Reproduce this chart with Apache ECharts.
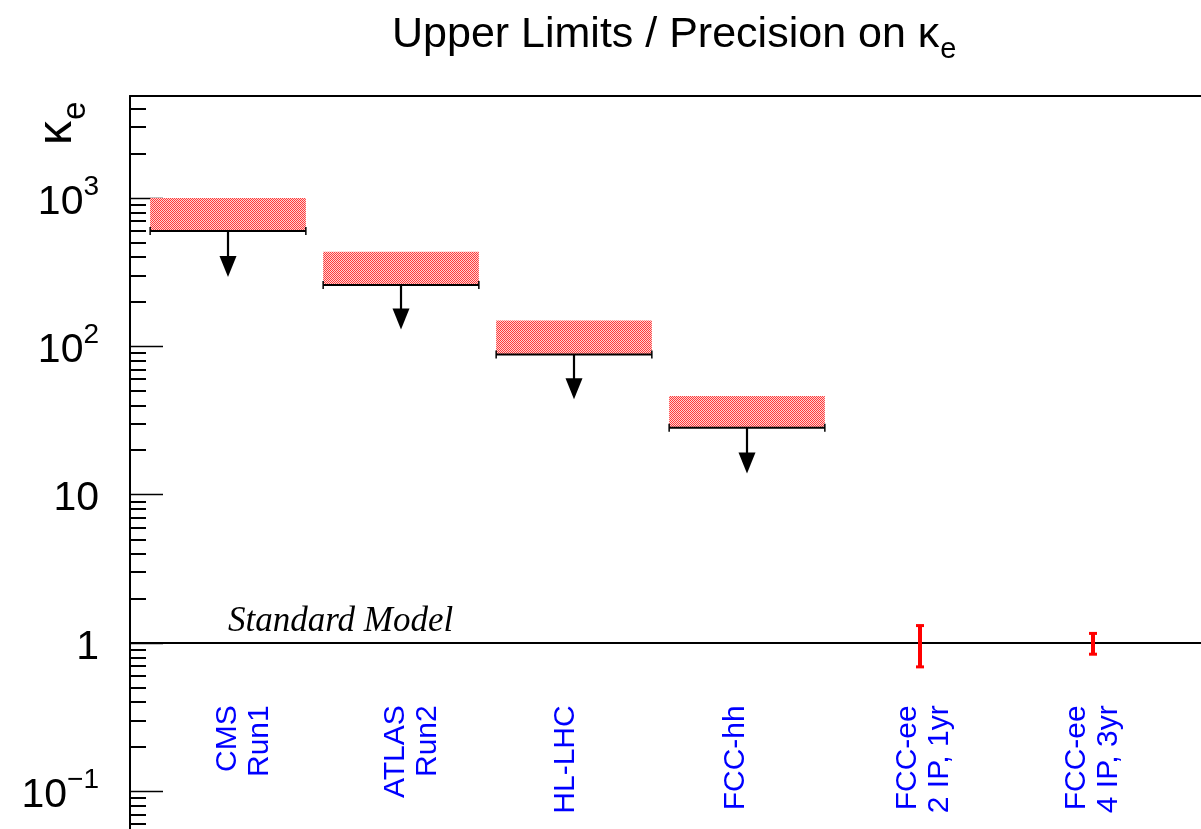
<!DOCTYPE html>
<html><head><meta charset="utf-8">
<script src="https://cdn.jsdelivr.net/npm/echarts@6/dist/echarts.min.js"></script>
<style>html,body{margin:0;padding:0;background:#fff}#chart{width:1201px;height:829px}</style>
</head><body><div id="chart"></div>
<script>
// ---------------- data ----------------
const categories = ['CMS\nRun1', 'ATLAS\nRun2', 'HL-LHC', 'FCC-hh', 'FCC-ee\n2 IP, 1yr', 'FCC-ee\n4 IP, 3yr'];
const labelX = [1.0, 1.97, 2.955, 3.935, 4.93, 5.905];
const labelTopY = 0.38;
// upper limits (hadron colliders)
const limitX = [1, 2, 3, 4];
const limitValues = [600, 259, 88, 28.3];
const bandTopValues = [1000, 434, 149, 46.3];
const arrowTipValues = [293, 130, 44, 13.9];
// precision (FCC-ee)
const precX = [5, 6];
const precCentral = [1, 1];
const precError = [0.31, 0.16];
// standard model
const smValue = 1;
const smLabel = 'Standard Model';
const smLabelX = 1.0;
// axis ticks
const yMajorTicks = [0.1, 1, 10, 100, 1000];
const yMajorLabels = ['10^-1', '1', '10', '10^2', '10^3'];
const yMinorTicks = [0.06, 0.07, 0.08, 0.09,
  0.2, 0.3, 0.4, 0.5, 0.6, 0.7, 0.8, 0.9,
  2, 3, 4, 5, 6, 7, 8, 9,
  20, 30, 40, 50, 60, 70, 80, 90,
  200, 300, 400, 500, 600, 700, 800, 900,
  2000, 3000, 4000];
const titleMain = 'Upper Limits / Precision on κ';
const titleSub = 'e';
const yNameMain = 'κ';
const yNameSub = 'e';

// ---------------- style ----------------
const FONT = '"Liberation Sans", Arial, Helvetica, sans-serif';
const BOX_HALF = 0.45;
const xMin = 0.4335, xMax = 6.6243;
const yMin = 0.0557, yMax = 4870;

// hatch pattern
const pc = document.createElement('canvas');
pc.width = 2; pc.height = 2;
const pctx = pc.getContext('2d');
pctx.fillStyle = '#ff3a3a'; pctx.fillRect(0, 0, 2, 2);
pctx.fillStyle = '#ffd2d2'; pctx.fillRect(1, 0, 1, 1); pctx.fillRect(0, 1, 1, 1);
const hatch = { image: pc, repeat: 'repeat' };

function measure(text, font) {
  const c = document.createElement('canvas').getContext('2d');
  c.font = font;
  return c.measureText(text).width;
}

function fmtTick(v) {
  const lv = Math.log10(v);
  const idx = yMajorTicks.findIndex(t => Math.abs(Math.log10(t) - lv) < 1e-6);
  if (idx < 0) return '';
  const s = yMajorLabels[idx];
  const parts = s.split('^');
  if (parts.length > 1) return '{b|' + parts[0] + '}{sup|' + parts[1].replace('-', '\u2212') + '}';
  return '{b|' + s + '}';
}

const chart = echarts.init(document.getElementById('chart'), null, { renderer: 'canvas' });

const titleFont = '43px ' + FONT;
const titleW = measure(titleMain, titleFont);
const yNameFont = '48px ' + FONT;
const yNameW = measure(yNameMain, yNameFont);

const option = {
  animation: false,
  backgroundColor: '#ffffff',
  grid: { left: 130, top: 96, right: 0, bottom: 0, containLabel: false, outerBoundsMode: 'none' },
  xAxis: {
    type: 'value', min: xMin, max: xMax, position: 'top',
    axisLine: { show: true, onZero: false, lineStyle: { color: '#000', width: 2 } },
    axisTick: { show: false }, axisLabel: { show: false }, splitLine: { show: false }
  },
  yAxis: [{
    type: 'log', logBase: 10, min: yMin, max: yMax, position: 'left',
    axisLine: { show: true, lineStyle: { color: '#000', width: 2 } },
    axisTick: { show: true, inside: true, length: 33, lineStyle: { color: '#000', width: 1.3 }, customValues: yMajorTicks },
    axisLabel: {
      show: true, customValues: yMajorTicks, margin: 31, formatter: fmtTick,
      rich: {
        b: { fontSize: 41, fontFamily: FONT, color: '#000', lineHeight: 50, verticalAlign: 'bottom' },
        sup: { fontSize: 28, fontFamily: FONT, color: '#000', lineHeight: 28, verticalAlign: 'top' }
      }
    },
    splitLine: { show: false }
  }, {
    type: 'log', logBase: 10, min: yMin, max: yMax, position: 'left', offset: 0,
    axisLine: { show: false },
    axisTick: { show: true, inside: true, length: 16, lineStyle: { color: '#000', width: 2 }, customValues: yMinorTicks },
    axisLabel: { show: false }, splitLine: { show: false }
  }],
  graphic: [
    { type: 'text', x: 392, y: 35, style: { text: titleMain, font: titleFont, fill: '#000', align: 'left', verticalAlign: 'middle' } },
    { type: 'text', x: 392 + titleW + 1, y: 50, style: { text: titleSub, font: '29px ' + FONT, fill: '#000', align: 'left', verticalAlign: 'middle' } },
    { type: 'text', x: 58, y: 145, rotation: Math.PI / 2, style: { text: yNameMain, font: yNameFont, fill: '#000', align: 'left', verticalAlign: 'middle' } },
    { type: 'text', x: 76, y: 145 - yNameW - 1, rotation: Math.PI / 2, style: { text: yNameSub, font: '33px ' + FONT, fill: '#000', align: 'left', verticalAlign: 'middle' } }
  ],
  series: [
    {
      type: 'custom', name: 'sm', yAxisIndex: 0, clip: false,
      data: [[smLabelX, smValue]],
      renderItem: function (params, api) {
        const cs = params.coordSys;
        const p = api.coord([api.value(0), api.value(1)]);
        return { type: 'group', children: [
          { type: 'line', shape: { x1: cs.x, y1: p[1], x2: cs.x + cs.width, y2: p[1] }, style: { stroke: '#000', lineWidth: 2 } },
          { type: 'text', x: p[0], y: p[1] - 4, style: { text: smLabel, font: 'italic 35px "Liberation Serif", "Times New Roman", serif', fill: '#000', align: 'left', verticalAlign: 'bottom' } }
        ] };
      }
    },
    {
      type: 'custom', name: 'limits', yAxisIndex: 0, clip: false,
      data: limitX.map((x, i) => [x, limitValues[i], bandTopValues[i], arrowTipValues[i]]),
      renderItem: function (params, api) {
        const x = api.value(0), lim = api.value(1), top = api.value(2), tip = api.value(3);
        const pTL = api.coord([x - BOX_HALF, top]);
        const pBR = api.coord([x + BOX_HALF, lim]);
        const pC = api.coord([x, lim]);
        const pT = api.coord([x, tip]);
        return { type: 'group', children: [
          { type: 'rect', shape: { x: pTL[0], y: pTL[1], width: pBR[0] - pTL[0], height: pBR[1] - pTL[1] }, style: { fill: hatch } },
          { type: 'line', shape: { x1: pTL[0], y1: pBR[1], x2: pBR[0], y2: pBR[1] }, style: { stroke: '#000', lineWidth: 2 } },
          { type: 'line', shape: { x1: pTL[0], y1: pBR[1] - 4, x2: pTL[0], y2: pBR[1] + 4 }, style: { stroke: '#000', lineWidth: 1.5 } },
          { type: 'line', shape: { x1: pBR[0], y1: pBR[1] - 4, x2: pBR[0], y2: pBR[1] + 4 }, style: { stroke: '#000', lineWidth: 1.5 } },
          { type: 'line', shape: { x1: pC[0], y1: pC[1], x2: pC[0], y2: pT[1] - 18 }, style: { stroke: '#000', lineWidth: 2.2 } },
          { type: 'polygon', shape: { points: [[pC[0] - 8.5, pT[1] - 21], [pC[0] + 8.5, pT[1] - 21], [pC[0], pT[1]]] }, style: { fill: '#000' } }
        ] };
      }
    },
    {
      type: 'custom', name: 'precision', yAxisIndex: 0, clip: false,
      data: precX.map((x, i) => [x, precCentral[i], precError[i]]),
      renderItem: function (params, api) {
        const x = api.value(0), c = api.value(1), e = api.value(2);
        const pHi = api.coord([x, c + e]);
        const pLo = api.coord([x, c - e]);
        return { type: 'group', children: [
          { type: 'line', shape: { x1: pHi[0], y1: pHi[1], x2: pLo[0], y2: pLo[1] }, style: { stroke: '#ff0000', lineWidth: 4 } },
          { type: 'rect', shape: { x: pHi[0] - 4, y: pHi[1] - 1.5, width: 8, height: 3 }, style: { fill: '#ff0000' } },
          { type: 'rect', shape: { x: pLo[0] - 4, y: pLo[1] - 1.5, width: 8, height: 3 }, style: { fill: '#ff0000' } }
        ] };
      }
    },
    {
      type: 'custom', name: 'labels', yAxisIndex: 0, clip: false,
      data: labelX.map((x) => [x, labelTopY]),
      renderItem: function (params, api) {
        const p = api.coord([api.value(0), api.value(1)]);
        return { type: 'text', x: p[0] - 16, y: p[1], rotation: Math.PI / 2,
          style: { text: categories[params.dataIndex], font: '30px ' + FONT, fill: '#0000ff', align: 'right', verticalAlign: 'top', lineHeight: 32 } };
      }
    }
  ]
};
chart.setOption(option);
</script>
</body></html>
